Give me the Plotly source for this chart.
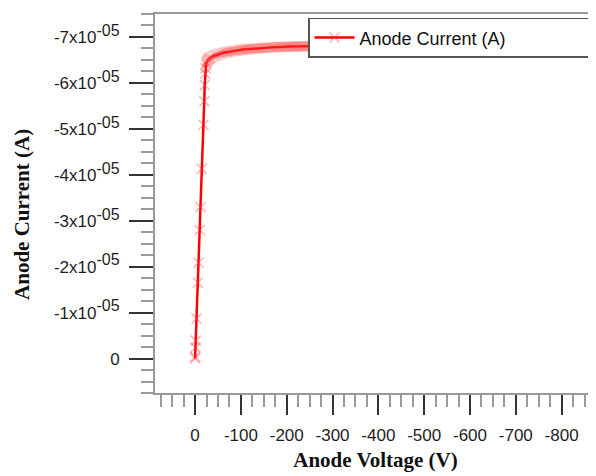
import plotly.graph_objects as go

# Anode voltage (V) and anode current (A)
voltage = [0, -0.15, -0.9, -1.4, -3.1, -5.9, -7.5, -10, -11.8, -14.7, -18.2, -20,
           -21, -22, -23, -24, -25, -26, -28, -30, -32, -35, -40, -45, -50, -55,
           -60, -65, -70, -75, -80, -85, -90, -95, -100, -105, -110, -115, -120,
           -125, -130, -135, -140, -145, -150, -155, -160, -165, -170, -175, -180,
           -185, -190, -195, -200, -205, -210, -215, -220, -225, -230, -235, -240,
           -245, -250, -255, -260, -265, -270]
current = [0, -0.04e-5, -0.24e-5, -0.39e-5, -0.87e-5, -1.65e-5, -2.09e-5, -2.8e-5,
           -3.3e-5, -4.13e-5, -5.09e-5, -5.6e-5,
           -5.95e-5, -6.2e-5, -6.32e-5, -6.4e-5, -6.44e-5, -6.47e-5, -6.5e-5,
           -6.52e-5, -6.54e-5, -6.56e-5, -6.58e-5, -6.6e-5, -6.62e-5, -6.635e-5,
           -6.65e-5, -6.66e-5, -6.67e-5, -6.68e-5, -6.69e-5, -6.695e-5, -6.70e-5,
           -6.71e-5, -6.72e-5, -6.725e-5, -6.73e-5, -6.735e-5, -6.74e-5,
           -6.745e-5, -6.75e-5, -6.75e-5, -6.755e-5, -6.76e-5, -6.76e-5, -6.765e-5,
           -6.77e-5, -6.77e-5, -6.775e-5, -6.775e-5, -6.78e-5,
           -6.78e-5, -6.78e-5, -6.785e-5, -6.785e-5, -6.79e-5, -6.79e-5, -6.79e-5,
           -6.79e-5, -6.795e-5, -6.795e-5, -6.795e-5, -6.80e-5,
           -6.80e-5, -6.80e-5, -6.80e-5, -6.80e-5, -6.805e-5, -6.805e-5]

x_tickvals = [0, -100, -200, -300, -400, -500, -600, -700, -800]
x_ticktext = ["0", "-100", "-200", "-300", "-400", "-500", "-600", "-700", "-800"]
y_tickvals = [0, -1e-5, -2e-5, -3e-5, -4e-5, -5e-5, -6e-5, -7e-5]
y_ticktext = ["0"] + [f'-{k}x10<sup><span style="font-size:16px">-05</span></sup>' for k in range(1, 8)]

series_name = "Anode Current (A)"
x_title = "<b>Anode Voltage (V)</b>"
y_title = "<b>Anode Current (A)</b>"

tick_font = dict(family="Liberation Sans, Arial, sans-serif", size=17, color="#1e1e24")
title_font = dict(family="Liberation Serif, Times New Roman, serif", size=21, color="#111")

fig = go.Figure()
fig.add_trace(go.Scatter(
    x=voltage, y=current, name=series_name, mode="lines+markers",
    line=dict(color="#ff0000", width=2.5),
    marker=dict(symbol="x-thin", size=10,
                line=dict(color="rgba(255,60,60,0.4)", width=1.5),
                color="rgba(255,60,60,0.4)"),
))

# page body has an 8px margin, so the figure is 8px smaller and margins are shifted
fig.update_layout(
    width=588, height=468,
    margin=dict(l=147, r=0, t=6, b=83, autoexpand=False),
    paper_bgcolor="white", plot_bgcolor="white",
    showlegend=True,
    legend=dict(
        x=0.347, y=0.99, xanchor="left", yanchor="top",
        orientation="h", entrywidth=235,
        bgcolor="white", bordercolor="#555", borderwidth=1.5,
        font=dict(family="Liberation Sans, Arial, sans-serif", size=18, color="#111"),
        itemwidth=40,
    ),
    xaxis=dict(
        range=[87.5, -875], showgrid=False, zeroline=False, automargin=False,
        showline=True, linecolor="#999", linewidth=2, mirror=True,
        tickvals=x_tickvals, ticktext=x_ticktext,
        ticks="outside", ticklen=20, tickwidth=2, tickcolor="#333",
        ticklabelstandoff=6,
        minor=dict(dtick=25, tick0=0, ticks="outside", ticklen=12, tickwidth=1.5, tickcolor="#999"),
        tickfont=tick_font,
        title=dict(text=x_title, font=title_font, standoff=8),
    ),
    yaxis=dict(
        range=[0.75e-5, -7.5e-5], showgrid=False, zeroline=False, automargin=False,
        showline=True, linecolor="#999", linewidth=2,
        tickvals=y_tickvals, ticktext=y_ticktext,
        ticks="outside", ticklen=24, tickwidth=2, tickcolor="#333",
        ticklabelstandoff=6,
        minor=dict(dtick=2.5e-6, tick0=0, ticks="outside", ticklen=12, tickwidth=1.5, tickcolor="#999"),
        tickfont=tick_font,
    ),
    annotations=[dict(
        text=y_title, textangle=-90, font=title_font, showarrow=False,
        xref="paper", yref="paper", x=-0.302, y=0.472,
        xanchor="center", yanchor="middle",
    )],
)

fig.write_html("out.html")
